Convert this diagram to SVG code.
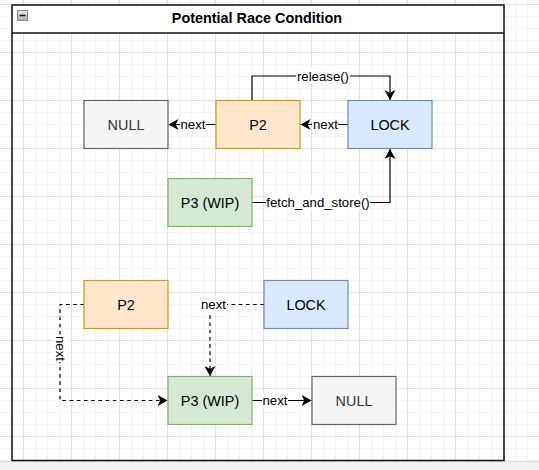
<svg xmlns="http://www.w3.org/2000/svg" width="539" height="470" viewBox="0 0 539 470">
  <defs>
    <pattern id="grid" x="23" y="4" width="48" height="48" patternUnits="userSpaceOnUse">
      <path d="M12.5,0V48M24.5,0V48M36.5,0V48M0,12.5H48M0,24.5H48M0,36.5H48" stroke="#f3f3f3" stroke-width="1" fill="none"/>
      <path d="M0.5,0V48M0,0.5H48" stroke="#e3e3e3" stroke-width="1" fill="none"/>
    </pattern>
    <linearGradient id="btn" x1="0" y1="0" x2="0" y2="1">
      <stop offset="0" stop-color="#e8e8ee"/>
      <stop offset="1" stop-color="#a8a8b4"/>
    </linearGradient>
    <marker id="arrow" viewBox="0 0 10 11" refX="10" refY="5.5" markerWidth="10" markerHeight="11" markerUnits="userSpaceOnUse" orient="auto">
      <path d="M10,5.5 L0,0 L2.8,5.5 L0,11 Z" fill="#000"/>
    </marker>
  </defs>
  <style>
    .node rect { stroke-width: 1.2; }
    .nlabel { font-family: "Liberation Sans", Arial, Helvetica, sans-serif; font-size: 14.4px; text-anchor: middle; }
    .elabel { font-family: "Liberation Sans", Arial, Helvetica, sans-serif; font-size: 13.2px; text-anchor: middle; fill: #000; }
    .edge { fill: none; stroke: #000; stroke-width: 1.2; }
    .dashed { stroke-dasharray: 3.6 3.6; }
    .lbg { fill: #fff; }
    .null rect { fill: #f5f5f5; stroke: #666666; }
    .null text { fill: #333333; }
    .p2 rect { fill: #ffe6cc; stroke: #d79b00; }
    .lock rect { fill: #dae8fc; stroke: #6c8ebf; }
    .p3 rect { fill: #d5e8d4; stroke: #82b366; }
  </style>

  <rect x="0" y="0" width="539" height="470" fill="#fff"/>
  <rect x="0" y="0" width="539" height="462" fill="url(#grid)"/>
  <rect x="0" y="461.5" width="539" height="8.5" fill="#f1f1f1"/>
  <line x1="0" y1="461.5" x2="539" y2="461.5" stroke="#dedede" stroke-width="1"/>

  <g id="container">
    <rect x="12" y="5" width="492" height="28" fill="#fff" stroke="none"/>
    <rect x="12" y="5" width="492" height="455.5" fill="none" stroke="#111" stroke-width="1.5"/>
    <line x1="12" y1="33" x2="504" y2="33" stroke="#111" stroke-width="1.5"/>
    <rect x="17.5" y="10.5" width="10" height="10" fill="url(#btn)" stroke="#8a8a96" stroke-width="1"/>
    <line x1="19.5" y1="15.5" x2="25.5" y2="15.5" stroke="#111" stroke-width="1.5"/>
    <text x="257" y="23" font-family="Liberation Sans, Arial, sans-serif" font-size="14.4" font-weight="bold" text-anchor="middle" fill="#000">Potential Race Condition</text>
  </g>

  <g id="connectors">
    <!-- top section -->
    <path class="edge" d="M252,100.5 V76 H390 V100" marker-end="url(#arrow)"/>
    <rect class="lbg" x="296" y="68" width="54" height="15"/>
    <text class="elabel" x="323" y="80.5">release()</text>

    <path class="edge" d="M216,124.5 H168.5" marker-end="url(#arrow)"/>
    <rect class="lbg" x="180" y="117" width="26" height="15"/>
    <text class="elabel" x="193" y="129">next</text>

    <path class="edge" d="M348,124.5 H300.5" marker-end="url(#arrow)"/>
    <rect class="lbg" x="312" y="117" width="26" height="15"/>
    <text class="elabel" x="325.5" y="129">next</text>

    <path class="edge" d="M252,202.5 H390 V149" marker-end="url(#arrow)"/>
    <rect class="lbg" x="266" y="195" width="104" height="15"/>
    <text class="elabel" x="318" y="207">fetch_and_store()</text>

    <!-- bottom section -->
    <path class="edge dashed" d="M84,304.5 H60 V400.5 H167.5" marker-end="url(#arrow)"/>
    <rect class="lbg" x="53" y="335" width="15" height="27"/>
    <text class="elabel" transform="translate(60,348.5) rotate(90)" x="0" y="4.5">next</text>

    <path class="edge dashed" d="M264,304.5 H210 V376" marker-end="url(#arrow)"/>
    <rect class="lbg" x="200" y="297" width="27" height="15"/>
    <text class="elabel" x="213.5" y="309">next</text>

    <path class="edge" d="M252,400.5 H311.5" marker-end="url(#arrow)"/>
    <rect class="lbg" x="262" y="393" width="26" height="15"/>
    <text class="elabel" x="275" y="405">next</text>
  </g>

  <g id="null1" class="node null">
    <rect x="84" y="100.5" width="84" height="48"/>
    <text class="nlabel" x="126" y="129.7">NULL</text>
  </g>
  <g id="p2a" class="node p2">
    <rect x="216" y="100.5" width="84" height="48"/>
    <text class="nlabel" x="258" y="129.7">P2</text>
  </g>
  <g id="lock1" class="node lock">
    <rect x="348" y="100.5" width="84" height="48"/>
    <text class="nlabel" x="390" y="129.7">LOCK</text>
  </g>
  <g id="p3a" class="node p3">
    <rect x="168" y="178.5" width="84" height="48"/>
    <text class="nlabel" x="210" y="207.7">P3 (WIP)</text>
  </g>

  <g id="p2b" class="node p2">
    <rect x="84" y="280.5" width="84" height="48"/>
    <text class="nlabel" x="126" y="309.7">P2</text>
  </g>
  <g id="lock2" class="node lock">
    <rect x="264" y="280.5" width="84" height="48"/>
    <text class="nlabel" x="306" y="309.7">LOCK</text>
  </g>
  <g id="p3b" class="node p3">
    <rect x="168" y="376.5" width="84" height="48"/>
    <text class="nlabel" x="210" y="405.7">P3 (WIP)</text>
  </g>
  <g id="null2" class="node null">
    <rect x="312" y="376.5" width="84" height="48"/>
    <text class="nlabel" x="354" y="405.7">NULL</text>
  </g>
</svg>
